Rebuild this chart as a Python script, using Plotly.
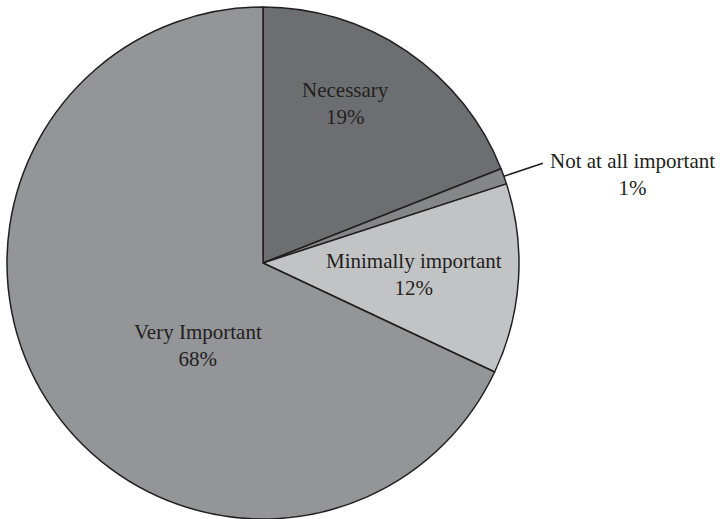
import math
import plotly.graph_objects as go

# Survey responses: how important is the item
categories = ["Necessary", "Not at all important", "Minimally important", "Very Important"]
percents = [19, 1, 12, 68]
colors = ["#6d6e71", "#858689", "#c2c3c5", "#939598"]

# where each inside label sits: fraction of the radius, and fraction through the slice's sweep
label_radius = [0.70, None, 0.59, 0.41]
label_sweep = [0.40, 0.5, 0.52, 0.42]

W, H = 722, 519
FONT = "Liberation Serif"
FONT_SIZE = 21
TEXT_COLOR = "#231f20"

# pie placement in pixels (left, top, diameter)
left, top, diam = 7, 7, 512
cx, cy, r = left + diam / 2, top + diam / 2, diam / 2

fig = go.Figure(go.Pie(
    labels=categories,
    values=percents,
    textinfo="none",
    sort=False,
    direction="clockwise",
    rotation=0,
    marker=dict(colors=colors, line=dict(color=TEXT_COLOR, width=1.5)),
    hoverinfo="skip",
    showlegend=False,
    domain=dict(x=[left / W, (left + diam) / W],
                y=[(H - top - diam) / H, (H - top) / H]),
))

total = sum(percents)
cum = 0.0
for cat, p, lr, ls in zip(categories, percents, label_radius, label_sweep):
    a0 = cum / total * 2 * math.pi
    a1 = (cum + p) / total * 2 * math.pi
    cum += p
    ang = a0 + ls * (a1 - a0)
    text = f"{cat}<br>{p}%"
    if lr is not None:
        lx = cx + lr * r * math.sin(ang)
        ly = cy - lr * r * math.cos(ang)
        fig.add_annotation(xref="paper", yref="paper", x=lx / W, y=1 - ly / H,
                           xanchor="center", yanchor="middle", align="center",
                           showarrow=False, text=text,
                           font=dict(family=FONT, size=FONT_SIZE, color=TEXT_COLOR))
    else:
        # tiny slice: leader line from its outer edge to a label outside the pie
        x0 = cx + r * math.sin(ang)
        y0 = cy - r * math.cos(ang)
        x1, y1 = x0 + 39, y0 - 13
        fig.add_shape(type="line", xref="paper", yref="paper",
                      x0=x0 / W, y0=1 - y0 / H, x1=x1 / W, y1=1 - y1 / H,
                      line=dict(color=TEXT_COLOR, width=1.5))
        fig.add_annotation(xref="paper", yref="paper", x=(x1 + 5) / W, y=1 - (y1 - 16) / H,
                           xanchor="left", yanchor="top", align="center", showarrow=False,
                           text=text,
                           font=dict(family=FONT, size=FONT_SIZE, color=TEXT_COLOR))

fig.update_layout(width=W, height=H, margin=dict(l=0, r=0, t=0, b=0),
                  paper_bgcolor="white", plot_bgcolor="white")

fig.write_html("out.html")
